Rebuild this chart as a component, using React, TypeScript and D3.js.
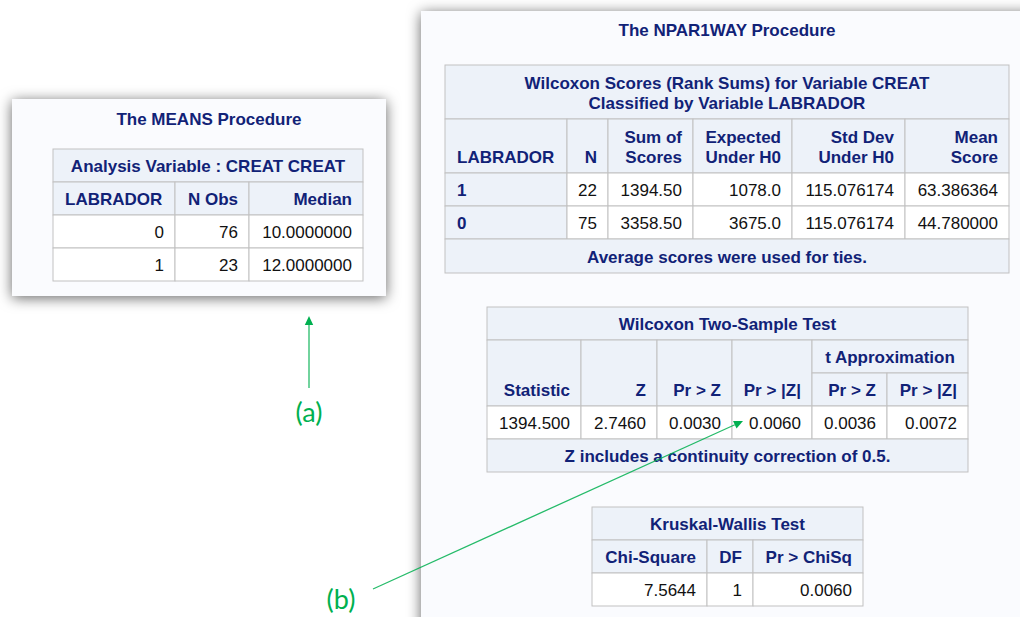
import React from 'react';
import * as d3 from 'd3';

// MEANS procedure
const meansTitle = 'Analysis Variable : CREAT CREAT';
const meansHeads = ['LABRADOR', 'N Obs', 'Median'];
const meansLabrador = ['0', '1'];
const meansNObs = [76, 23];
const meansMedian = [10, 12];

// NPAR1WAY: Wilcoxon scores
const scoresTitle = ['Wilcoxon Scores (Rank Sums) for Variable CREAT', 'Classified by Variable LABRADOR'];
const scoresHeads = [['LABRADOR'], ['N'], ['Sum of', 'Scores'], ['Expected', 'Under H0'], ['Std Dev', 'Under H0'], ['Mean', 'Score']];
const scoresLabrador = ['1', '0'];
const scoresN = [22, 75];
const scoresSum = [1394.5, 3358.5];
const scoresExpected = [1078.0, 3675.0];
const scoresStdDev = [115.076174, 115.076174];
const scoresMean = [63.386364, 44.78];
const scoresNote = 'Average scores were used for ties.';

// Wilcoxon two-sample test
const twoTitle = 'Wilcoxon Two-Sample Test';
const twoHeads = ['Statistic', 'Z', 'Pr > Z', 'Pr > |Z|'];
const twoTHeads = ['Pr > Z', 'Pr > |Z|'];
const twoValues = [1394.5, 2.746, 0.003, 0.006, 0.0036, 0.0072];
const twoFormats = ['.3f', '.4f', '.4f', '.4f', '.4f', '.4f'];
const twoNote = 'Z includes a continuity correction of 0.5.';

// Kruskal-Wallis
const kwTitle = 'Kruskal-Wallis Test';
const kwHeads = ['Chi-Square', 'DF', 'Pr > ChiSq'];
const kwValues = [7.5644, 1, 0.006];
const kwFormats = ['.4f', 'd', '.4f'];

const FONT = "'Liberation Sans', Arial, Helvetica, sans-serif";
const HEAD_BG = '#edf2f9';
const BORDER = '#c1c1c1';
const NAVY = '#112277';
const PANEL = '#fafbfe';
const GREEN = '#00b050';

type Cell = { r: number; c: number; rs?: number; cs?: number; text: string[]; align: 'start' | 'end' | 'middle'; head: boolean };

function Table({ x0, y0, colW, rowH, cells }: { x0: number; y0: number; colW: number[]; rowH: number[]; cells: Cell[] }) {
  const xs = [x0, ...Array.from(d3.cumsum(colW), (d) => x0 + d)];
  const ys = [y0, ...Array.from(d3.cumsum(rowH), (d) => y0 + d)];
  return (
    <g>
      {cells.map((cell, i) => {
        const x = xs[cell.c];
        const x2 = xs[cell.c + (cell.cs || 1)];
        const y = ys[cell.r];
        const y2 = ys[cell.r + (cell.rs || 1)];
        const tx = cell.align === 'start' ? x + 12 : cell.align === 'end' ? x2 - 11 : (x + x2) / 2;
        const n = cell.text.length;
        return (
          <g key={i}>
            <rect x={x} y={y} width={x2 - x} height={y2 - y} fill={cell.head ? HEAD_BG : '#ffffff'} stroke={BORDER} strokeWidth={1} />
            {cell.text.map((t, j) => (
              <text
                key={j}
                x={tx}
                y={y2 - 10.5 - 20 * (n - 1 - j)}
                textAnchor={cell.align}
                fontWeight={cell.head ? 'bold' : 'normal'}
                fill={cell.head ? NAVY : '#111111'}
              >
                {t}
              </text>
            ))}
          </g>
        );
      })}
    </g>
  );
}

function meansCells(): Cell[] {
  const cells: Cell[] = [{ r: 0, c: 0, cs: 3, text: [meansTitle], align: 'middle', head: true }];
  meansHeads.forEach((h, c) => cells.push({ r: 1, c, text: [h], align: c === 0 ? 'start' : 'end', head: true }));
  meansLabrador.forEach((lab, i) => {
    cells.push({ r: 2 + i, c: 0, text: [lab], align: 'end', head: false });
    cells.push({ r: 2 + i, c: 1, text: [String(meansNObs[i])], align: 'end', head: false });
    cells.push({ r: 2 + i, c: 2, text: [d3.format('.7f')(meansMedian[i])], align: 'end', head: false });
  });
  return cells;
}

function scoresCells(): Cell[] {
  const cells: Cell[] = [{ r: 0, c: 0, cs: 6, text: scoresTitle, align: 'middle', head: true }];
  scoresHeads.forEach((h, c) => cells.push({ r: 1, c, text: h, align: c === 0 ? 'start' : 'end', head: true }));
  scoresLabrador.forEach((lab, i) => {
    const vals = [
      String(scoresN[i]),
      d3.format('.2f')(scoresSum[i]),
      d3.format('.1f')(scoresExpected[i]),
      d3.format('.6f')(scoresStdDev[i]),
      d3.format('.6f')(scoresMean[i]),
    ];
    cells.push({ r: 2 + i, c: 0, text: [lab], align: 'start', head: true });
    vals.forEach((v, k) => cells.push({ r: 2 + i, c: 1 + k, text: [v], align: 'end', head: false }));
  });
  cells.push({ r: 4, c: 0, cs: 6, text: [scoresNote], align: 'middle', head: true });
  return cells;
}

function twoCells(): Cell[] {
  const cells: Cell[] = [{ r: 0, c: 0, cs: 6, text: [twoTitle], align: 'middle', head: true }];
  twoHeads.forEach((h, c) => cells.push({ r: 1, c, rs: 2, text: [h], align: 'end', head: true }));
  cells.push({ r: 1, c: 4, cs: 2, text: ['t Approximation'], align: 'middle', head: true });
  twoTHeads.forEach((h, k) => cells.push({ r: 2, c: 4 + k, text: [h], align: 'end', head: true }));
  twoValues.forEach((v, c) => cells.push({ r: 3, c, text: [d3.format(twoFormats[c])(v)], align: 'end', head: false }));
  cells.push({ r: 4, c: 0, cs: 6, text: [twoNote], align: 'middle', head: true });
  return cells;
}

function kwCells(): Cell[] {
  const cells: Cell[] = [{ r: 0, c: 0, cs: 3, text: [kwTitle], align: 'middle', head: true }];
  kwHeads.forEach((h, c) => cells.push({ r: 1, c, text: [h], align: 'end', head: true }));
  kwValues.forEach((v, c) => cells.push({ r: 2, c, text: [d3.format(kwFormats[c])(v)], align: 'end', head: false }));
  return cells;
}

// annotation arrows: [x1, y1, x2 (tip), y2 (tip)]
const arrows = [
  [309, 388, 309, 316],
  [373, 589, 743, 421],
];
const labels = [
  { t: '(a)', x: 309, y: 422 },
  { t: '(b)', x: 341, y: 609 },
];

function Arrow({ a }: { a: number[] }) {
  const [x1, y1, x2, y2] = a;
  const ang = Math.atan2(y2 - y1, x2 - x1);
  const len = 9;
  const half = 4.2;
  const bx = x2 - len * Math.cos(ang);
  const by = y2 - len * Math.sin(ang);
  const px = -Math.sin(ang) * half;
  const py = Math.cos(ang) * half;
  const path = d3.path();
  path.moveTo(x2, y2);
  path.lineTo(bx + px, by + py);
  path.lineTo(bx - px, by - py);
  path.closePath();
  return (
    <g>
      <line x1={x1} y1={y1} x2={bx} y2={by} stroke={GREEN} strokeWidth={1.3} opacity={0.85} />
      <path d={path.toString()} fill={GREEN} />
    </g>
  );
}

export default function App() {
  return (
    <svg
      width={1020}
      height={617}
      style={{ position: 'fixed', left: 0, top: 0, background: '#ffffff' }}
      fontFamily={FONT}
      fontSize={17}
    >
      <defs>
        <filter id="shadow" x="-12%" y="-12%" width="124%" height="124%">
          <feDropShadow dx={0} dy={2} stdDeviation={7} floodColor="#000" floodOpacity={0.6} />
        </filter>
      </defs>

      {/* left panel */}
      <rect x={12} y={99} width={374} height={197} fill={PANEL} filter="url(#shadow)" />
      <text x={209} y={125} textAnchor="middle" fontWeight="bold" fill={NAVY}>The MEANS Procedure</text>
      <Table x0={53} y0={149} colW={[122, 74, 114]} rowH={[33, 33, 33, 33]} cells={meansCells()} />

      {/* right panel */}
      <rect x={421} y={11} width={640} height={660} fill={PANEL} filter="url(#shadow)" />
      <text x={727} y={36} textAnchor="middle" fontWeight="bold" fill={NAVY}>The NPAR1WAY Procedure</text>
      <Table x0={445} y0={65} colW={[122, 41, 85, 99, 113, 104]} rowH={[54, 54, 33, 33, 34]} cells={scoresCells()} />
      <Table x0={487} y0={307} colW={[94, 76, 75, 80, 75, 81]} rowH={[33, 33, 33, 33, 33]} cells={twoCells()} />
      <Table x0={592} y0={507} colW={[115, 46, 110]} rowH={[33, 33, 33]} cells={kwCells()} />

      {/* annotations */}
      {arrows.map((a, i) => (
        <Arrow key={i} a={a} />
      ))}
      {labels.map((l) => (
        <text key={l.t} x={l.x} y={l.y} textAnchor="middle" fill={GREEN} fontFamily="Lato, 'Open Sans', sans-serif" fontSize={27}>
          {l.t}
        </text>
      ))}
    </svg>
  );
}
